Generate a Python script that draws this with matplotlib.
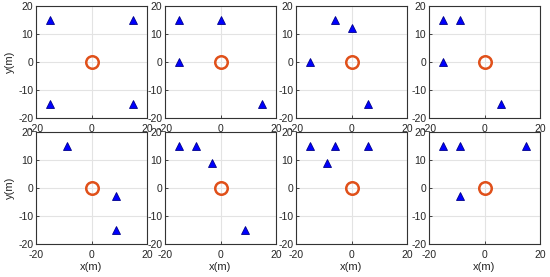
import matplotlib
matplotlib.use("Agg")
import matplotlib.pyplot as plt

plt.rcParams['font.family'] = ['Liberation Sans', 'DejaVu Sans']
plt.rcParams['axes.unicode_minus'] = False

# Anchor (triangle) positions for each of the 8 panels
anchor_x = [
    [-15, 15, -15, 15],
    [-15, 0, -15, 15],
    [-6, 0, -15, 6],
    [-15, -9, -15, 6],
    [-9, 9, 9],
    [-15, -9, -3, 9],
    [-15, -6, 6, -9],
    [-15, -9, 15, -9],
]
anchor_y = [
    [15, 15, -15, -15],
    [15, 15, 0, -15],
    [15, 12, 0, -15],
    [15, 15, 0, -15],
    [15, -3, -15],
    [15, 15, 9, -15],
    [15, 15, 15, 9],
    [15, 15, 15, -3],
]
target_x = [0]
target_y = [0]
xticks = [-20, 0, 20]
yticks = [-20, -10, 0, 10, 20]

W, H = 550, 277
fig = plt.figure(figsize=(W / 100, H / 100), dpi=100)
lefts = [36, 165, 296, 429]
tops = [6, 132]
aw, ah = 111, 112

for i in range(8):
    r, c = divmod(i, 4)
    ax = fig.add_axes([lefts[c] / W, 1 - (tops[r] + ah) / H, aw / W, ah / H])
    ax.set_xlim(-20, 20)
    ax.set_ylim(-20, 20)
    ax.set_xticks(xticks)
    ax.set_yticks(yticks)
    ax.grid(True, color='#e3e3e3', linewidth=0.8)
    ax.set_axisbelow(True)
    ax.plot(anchor_x[i], anchor_y[i], linestyle='none', marker='^',
            markersize=6, markerfacecolor='#0000ff', markeredgecolor='#00008b',
            markeredgewidth=0.6)
    ax.plot(target_x, target_y, linestyle='none', marker='o', markersize=9,
            markerfacecolor='none', markeredgecolor='#e0501a', markeredgewidth=1.8)
    ax.tick_params(direction='in', labelsize=7.5, length=2, width=0.6,
                   colors='#262626')
    ax.tick_params(axis='x', pad=4)
    ax.tick_params(axis='y', pad=2)
    for s in ax.spines.values():
        s.set_color('#333333')
        s.set_linewidth(0.8)
    if c == 0:
        ax.set_ylabel('y(m)', fontsize=8, labelpad=2, color='#262626')
    if r == 1:
        ax.set_xlabel('x(m)', fontsize=8, labelpad=2, color='#262626')

fig.savefig('out.png', dpi=100)
